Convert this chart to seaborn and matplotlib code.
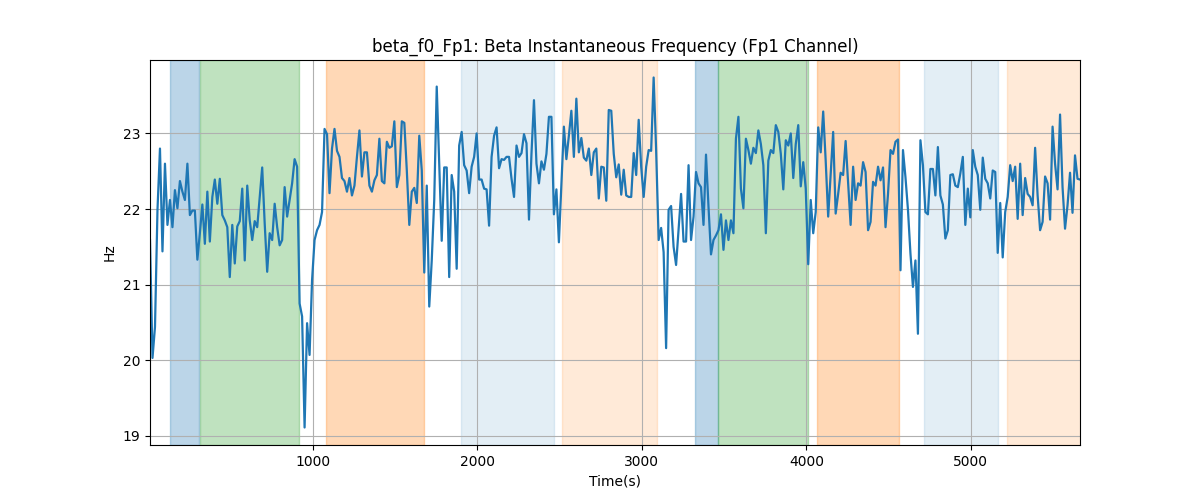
import numpy as np
import pandas as pd
import matplotlib
matplotlib.use("Agg")
import matplotlib.pyplot as plt
import seaborn as sns

# sampling grid of the instantaneous frequency trace (seconds)
T_START = 10
T_END = 5663

# beta instantaneous frequency, Fp1 channel (Hz)
beta_hz = [
    21.59, 20.03, 20.44, 21.99, 22.80, 21.44, 22.60, 21.79, 22.12, 21.76,
    22.25, 22.01, 22.37, 22.23, 22.12, 22.60, 21.92, 21.98, 21.98, 21.33,
    21.68, 22.06, 21.54, 22.23, 21.57, 22.16, 22.39, 22.07, 22.40, 21.92,
    21.85, 21.76, 21.10, 21.79, 21.28, 21.77, 21.84, 22.27, 21.32, 22.31,
    21.85, 21.59, 21.84, 21.76, 22.16, 22.55, 21.81, 21.17, 21.68, 21.59,
    22.07, 21.76, 21.52, 21.59, 22.29, 21.90, 22.12, 22.34, 22.66, 22.56,
    20.75, 20.58, 19.11, 20.49, 20.07, 21.06, 21.59, 21.72, 21.79, 21.96,
    23.06, 22.99, 22.21, 22.80, 23.06, 22.77, 22.69, 22.41, 22.37, 22.23,
    22.41, 22.18, 22.31, 22.69, 23.04, 22.43, 22.75, 22.75, 22.31, 22.23,
    22.38, 22.45, 22.93, 22.37, 22.34, 22.89, 22.81, 22.83, 23.16, 22.29,
    22.45, 23.16, 23.14, 22.51, 21.79, 22.23, 22.28, 22.08, 22.97, 22.51,
    21.16, 22.31, 20.71, 21.32, 22.12, 23.62, 22.60, 21.58, 22.55, 22.55,
    21.10, 22.45, 22.23, 21.21, 22.84, 23.02, 22.58, 22.51, 22.21, 22.56,
    22.69, 23.00, 22.39, 22.39, 22.27, 22.26, 21.78, 22.69, 22.97, 23.08,
    22.54, 22.66, 22.65, 22.69, 22.69, 22.40, 22.16, 22.84, 22.69, 22.74,
    22.99, 22.87, 21.86, 22.73, 23.44, 22.60, 22.34, 22.63, 22.52, 22.73,
    23.22, 23.22, 21.93, 22.26, 21.56, 22.34, 23.09, 22.66, 22.97, 23.30,
    22.69, 23.46, 22.75, 22.94, 22.68, 22.64, 22.80, 22.45, 22.75, 22.80,
    22.14, 22.56, 22.55, 22.11, 23.31, 23.30, 22.73, 22.42, 22.59, 22.19,
    22.52, 22.18, 22.16, 22.16, 22.74, 22.45, 23.18, 22.56, 22.16, 22.56,
    22.78, 22.77, 23.74, 22.78, 21.59, 21.75, 21.43, 20.16, 21.99, 22.04,
    21.50, 21.26, 21.72, 22.20, 21.57, 21.57, 22.58, 21.59, 21.90, 22.49,
    22.34, 22.29, 21.79, 22.72, 22.03, 21.40, 21.59, 21.65, 21.72, 21.93,
    21.46, 21.85, 21.59, 21.85, 21.68, 22.93, 23.22, 22.27, 22.01, 22.93,
    22.78, 22.60, 22.81, 22.74, 23.04, 22.86, 22.58, 21.68, 22.64, 22.78,
    22.74, 23.11, 23.02, 22.73, 22.26, 22.91, 22.84, 23.00, 22.41, 22.86,
    23.11, 22.30, 22.62, 22.27, 21.27, 22.12, 21.68, 21.96, 23.08, 22.75,
    23.29, 22.64, 21.90, 22.45, 23.02, 21.94, 22.20, 22.48, 22.45, 22.90,
    22.34, 21.79, 22.56, 22.12, 22.34, 22.31, 22.62, 22.49, 21.72, 21.83,
    22.36, 22.31, 22.56, 22.38, 22.55, 21.76, 22.20, 22.78, 22.73, 22.89,
    22.92, 21.19, 22.78, 22.42, 21.99, 21.41, 20.97, 21.32, 20.35, 22.91,
    22.58, 21.96, 21.93, 22.53, 22.53, 22.18, 22.82, 22.18, 22.06, 21.61,
    21.72, 22.45, 22.46, 22.31, 22.29, 22.47, 22.69, 21.79, 22.27, 21.89,
    22.78, 22.56, 22.45, 21.99, 22.68, 22.40, 22.34, 22.14, 22.51, 22.49,
    21.42, 22.08, 21.36, 21.96, 22.16, 22.58, 22.37, 22.56, 21.87, 22.60,
    21.92, 22.41, 22.20, 22.16, 22.05, 22.81, 22.18, 21.72, 21.83, 22.43,
    22.34, 21.86, 23.09, 22.60, 22.26, 23.25, 22.29, 21.74, 22.05, 22.48,
    21.95, 22.71, 22.40, 22.39,
]

# shaded task blocks (start, end in seconds)
span_start = [131, 313, 1079, 1900, 2514, 3322, 3464, 4064, 4714, 5219]
span_end = [307, 917, 1673, 2465, 3089, 3464, 4007, 4560, 5162, 5700]
span_color = ["tab:blue", "tab:green", "tab:orange", "tab:blue", "tab:orange",
              "tab:blue", "tab:green", "tab:orange", "tab:blue", "tab:orange"]
span_alpha = [0.3, 0.3, 0.3, 0.12, 0.16, 0.3, 0.3, 0.3, 0.12, 0.16]

time_s = np.linspace(T_START, T_END, len(beta_hz))
df = pd.DataFrame({"time": time_s, "hz": beta_hz})

fig, ax = plt.subplots(figsize=(12, 5))

for s, e, c, a in zip(span_start, span_end, span_color, span_alpha):
    ax.axvspan(s, e, color=c, alpha=a)

sns.lineplot(data=df, x="time", y="hz", ax=ax, color="tab:blue", linewidth=1.6)

ax.set_xlim(df["time"].min(), df["time"].max())
ax.grid(True)
ax.set_title("beta_f0_Fp1: Beta Instantaneous Frequency (Fp1 Channel)")
ax.set_xlabel("Time(s)")
ax.set_ylabel("Hz")

plt.savefig("out.png", dpi=100)
